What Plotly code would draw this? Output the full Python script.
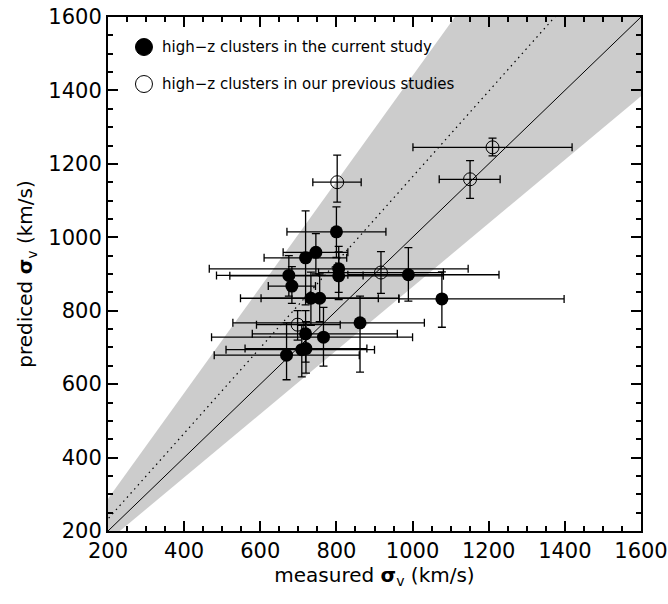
import plotly.graph_objects as go

# High-z clusters from the current study (measured vs predicted velocity dispersion, km/s)
cur_meas = [800, 746, 719, 806, 806, 675, 683, 733, 756, 862, 719, 766, 669, 709, 720, 1077, 989]
cur_pred = [1015, 959, 944, 914, 895, 896, 867, 834, 834, 767, 737, 728, 679, 694, 697, 832, 898]
cur_meas_lo = [670, 660, 610, 466, 520, 485, 621, 548, 602, 528, 579, 472, 479, 510, 560, 964, 830]
cur_meas_hi = [930, 830, 827, 1146, 1081, 870, 745, 964, 910, 1031, 960, 1000, 860, 900, 880, 1398, 1227]
cur_pred_lo = [945, 900, 816, 850, 830, 840, 820, 760, 770, 633, 660, 649, 612, 620, 630, 755, 826]
cur_pred_hi = [1083, 1010, 1072, 975, 960, 950, 920, 905, 900, 840, 800, 809, 767, 760, 770, 906, 972]

# High-z clusters from earlier studies
prev_meas = [1210, 1151, 802, 917, 698]
prev_pred = [1245, 1158, 1150, 904, 762]
prev_meas_lo = [1001, 1070, 738, 753, 590]
prev_meas_hi = [1419, 1230, 865, 1081, 810]
prev_pred_lo = [1222, 1106, 1096, 847, 720]
prev_pred_hi = [1270, 1209, 1224, 961, 800]

# Reference relations: one-to-one, offset relation and scatter envelope (y = k * x)
axis_range = [200, 1600]
offset_slope = 1.165
band_slopes = [1.44, 0.865]

FONT = "DejaVu Sans"


def minus(c, lo):
    return [a - b for a, b in zip(c, lo)]


def plus(c, hi):
    return [b - a for a, b in zip(c, hi)]


fig = go.Figure()

# Shaded envelope
xe = 2000
fig.add_trace(go.Scatter(
    x=[0, xe, xe, 0], y=[0, band_slopes[0] * xe, band_slopes[1] * xe, 0],
    fill="toself", fillcolor="rgb(204,204,204)", line=dict(width=0),
    mode="lines", hoverinfo="skip", showlegend=False))

# One-to-one line
fig.add_trace(go.Scatter(
    x=axis_range, y=axis_range, mode="lines",
    line=dict(color="black", width=1), showlegend=False, hoverinfo="skip"))

# Offset relation (dotted)
fig.add_trace(go.Scatter(
    x=[0, 2000], y=[0, offset_slope * 2000], mode="lines",
    line=dict(color="black", width=1.2, dash="1.5px,4px"), showlegend=False, hoverinfo="skip"))

err_style = dict(type="data", symmetric=False, color="black", thickness=1.3, width=4)

fig.add_trace(go.Scatter(
    x=cur_meas, y=cur_pred, mode="markers",
    name="high−z clusters in the current study",
    marker=dict(symbol="circle", size=13, color="black"),
    error_x=dict(array=plus(cur_meas, cur_meas_hi), arrayminus=minus(cur_meas, cur_meas_lo), **err_style),
    error_y=dict(array=plus(cur_pred, cur_pred_hi), arrayminus=minus(cur_pred, cur_pred_lo), **err_style),
    showlegend=False))

fig.add_trace(go.Scatter(
    x=prev_meas, y=prev_pred, mode="markers",
    name="high−z clusters in our previous studies",
    marker=dict(symbol="circle-open", size=13, color="black", line=dict(width=1)),
    error_x=dict(array=plus(prev_meas, prev_meas_hi), arrayminus=minus(prev_meas, prev_meas_lo), **err_style),
    error_y=dict(array=plus(prev_pred, prev_pred_hi), arrayminus=minus(prev_pred, prev_pred_lo), **err_style),
    showlegend=False))

# Legend drawn by hand: symbol + label
legend_items = [
    ("high−z clusters in the current study", "black"),
    ("high−z clusters in our previous studies", "white"),
]
legend_y = [0.9416, 0.8696]
for (label, fill), ly in zip(legend_items, legend_y):
    fig.add_shape(type="circle", xref="paper", yref="paper",
                  xsizemode="pixel", ysizemode="pixel",
                  xanchor=0.0675, yanchor=ly, x0=-8.5, x1=8.5, y0=-8.5, y1=8.5,
                  fillcolor=fill, line=dict(color="black", width=1))
    fig.add_annotation(x=0.0976, y=ly, xref="paper", yref="paper",
                       text=label, showarrow=False, xanchor="left", yanchor="middle",
                       font=dict(family=FONT, size=15, color="black"))

axis_common = dict(
    range=axis_range, dtick=200, tick0=200, automargin=False,
    ticks="inside", ticklen=10, tickwidth=2, tickcolor="black",
    minor=dict(ticks="inside", dtick=50, ticklen=5, tickwidth=1.5, tickcolor="black"),
    showline=True, linecolor="black", linewidth=2, mirror="ticks",
    showgrid=False, zeroline=False,
    tickfont=dict(family=FONT, size=21, color="black"),
)

fig.update_xaxes(
    title=dict(text="measured <b>σ</b><sub>v</sub> (km/s)", standoff=6,
               font=dict(family=FONT, size=20, color="black")),
    **axis_common)
fig.update_yaxes(
    title=dict(text="prediced <b>σ</b><sub>v</sub> (km/s)", standoff=10,
               font=dict(family=FONT, size=20, color="black")),
    **axis_common)

fig.update_layout(
    width=668, height=604,
    margin=dict(l=108, r=27, t=17, b=73),
    paper_bgcolor="white", plot_bgcolor="white",
    showlegend=False,
)

fig.write_html("out.html")
